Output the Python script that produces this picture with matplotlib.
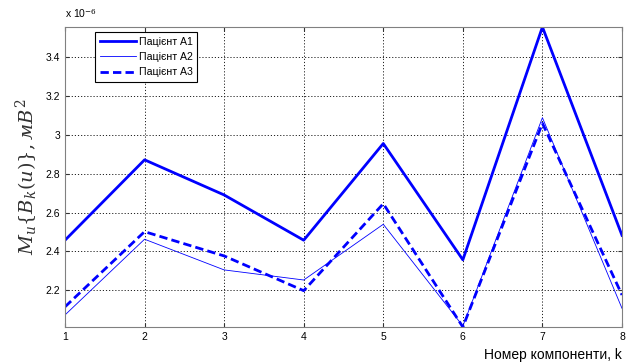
import matplotlib.pyplot as plt

plt.rcParams['font.family'] = ['Liberation Sans', 'DejaVu Sans']
plt.rcParams['mathtext.fontset'] = 'dejavuserif'

k = [1, 2, 3, 4, 5, 6, 7, 8]
pacient_a1 = [2.458, 2.872, 2.691, 2.458, 2.956, 2.357, 3.556, 2.483]
pacient_a2 = [2.073, 2.463, 2.305, 2.253, 2.540, 2.016, 3.089, 2.107]
pacient_a3 = [2.115, 2.502, 2.377, 2.198, 2.646, 2.011, 3.060, 2.176]
labels = ['Пацієнт А1', 'Пацієнт А2', 'Пацієнт А3']
yticks = [2.2, 2.4, 2.6, 2.8, 3.0, 3.2, 3.4]

fig = plt.figure(figsize=(6.33, 3.62), dpi=100)
ax = fig.add_axes([65 / 633, 1 - 327 / 362, 557 / 633, 300 / 362])

ax.plot(k, [v * 1e-6 for v in pacient_a1], color='#0000ff', lw=2.0, label=labels[0])
ax.plot(k, [v * 1e-6 for v in pacient_a2], color='#0000ff', lw=0.6, label=labels[1])
ax.plot(k, [v * 1e-6 for v in pacient_a3], color='#0000ff', lw=2.0, ls=(0, (3, 1.5)), label=labels[2])

ax.set_xlim(1, 8)
ax.set_ylim(min(pacient_a3) * 1e-6, max(pacient_a1) * 1e-6)
ax.set_xticks(k)
ax.set_yticks([v * 1e-6 for v in yticks])
ax.set_yticklabels(['2.2', '2.4', '2.6', '2.8', '3', '3.2', '3.4'])
ax.tick_params(direction='in', labelsize=7.5, top=True, right=True, length=3, color='#333333')
ax.grid(True, color='#222222', ls=(0, (1.2, 2)), lw=0.7)
for s in ax.spines.values():
    s.set_color('#808080')

fig.text(65 / 633, 1 - 20 / 362, r'x 10$^{-6}$', fontsize=7.5, ha='left', va='bottom')

ax.set_ylabel(r'$M_u\left\{B_k(u)\right\}, мB^2$', fontsize=14, family='DejaVu Serif',
              labelpad=4, color='#333333')
fig.text(622 / 633, 1 - 355 / 362, 'Номер компоненти, k', fontsize=10, ha='right', va='center')

leg = ax.legend(loc='upper left', bbox_to_anchor=(30 / 557, 1 - 5 / 300), fontsize=7.6, fancybox=False,
                edgecolor='black', framealpha=1, handlelength=3.4, borderpad=0.45,
                labelspacing=0.5, handletextpad=0.3, borderaxespad=0)
leg.get_frame().set_linewidth(0.8)

fig.savefig('out.png', dpi=100)
